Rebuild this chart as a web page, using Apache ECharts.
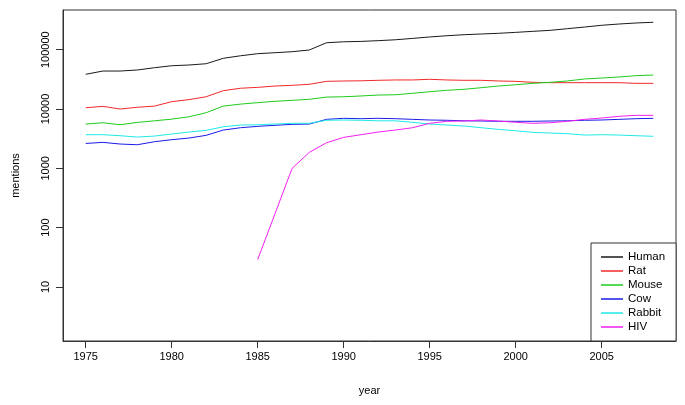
<!DOCTYPE html>
<html>
<head>
<meta charset="utf-8">
<script src="https://cdn.jsdelivr.net/npm/echarts@6/dist/echarts.min.js"></script>
<style>
html, body { margin: 0; padding: 0; background: #fff; }
#chart { width: 685px; height: 405px; }
</style>
</head>
<body>
<div id="chart"></div>
<script>
// data (mentions per year, log scale)
var years = [1975,1976,1977,1978,1979,1980,1981,1982,1983,1984,1985,1986,1987,1988,1989,1990,1991,
             1992,1993,1994,1995,1996,1997,1998,1999,2000,2001,2002,2003,2004,2005,2006,2007,2008];
var human  = [38500,43700,43700,45500,49700,53700,55200,58000,71600,79000,85700,89000,92500,98900,131000,136000,138000,
              142000,147000,155000,164000,172000,179000,184000,189000,196000,204000,212000,226000,241000,258000,271000,282000,290000];
var rat    = [10500,11100,10000,10700,11200,13300,14400,16100,20400,22400,23200,24400,25100,26100,29300,29700,29900,
              30500,30900,30900,31700,30900,30500,30500,29700,29300,28200,27800,27800,27800,27800,27800,27100,27100];
var mouse  = [5580,5870,5430,5950,6330,6750,7400,8670,11200,12100,12800,13500,14000,14600,15900,16100,16600,
              17200,17400,18400,19600,20700,21500,22900,24400,25700,27100,28200,29700,32100,33300,34700,36500,37400];
var cow    = [2630,2740,2570,2500,2810,3040,3240,3600,4420,4840,5100,5310,5520,5580,6700,6970,6870,
              6970,6870,6700,6530,6460,6330,6280,6210,6210,6210,6280,6330,6460,6530,6700,6870,6970];
var rabbit = [3690,3690,3550,3370,3500,3790,4090,4370,5020,5370,5430,5580,5740,5740,6460,6530,6460,
              6330,6330,5970,5580,5370,5170,4840,4540,4300,4040,3940,3840,3640,3690,3640,3550,3470];
var hiv    = [null,null,null,null,null,null,null,null,null,null,29,170,1000,1860,2700,3330,3690,
              4090,4420,4840,5740,6210,6280,6530,6280,5970,5740,5870,6210,6700,7050,7530,7830,7830];

var xTicks = [1975,1980,1985,1990,1995,2000,2005];
var yTicks = [10,100,1000,10000,100000];

var names  = ['Human','Rat','Mouse','Cow','Rabbit','HIV'];
var values = [human, rat, mouse, cow, rabbit, hiv];
var colors = ['#1a1a1a','#f02828','#1ccc1c','#1a1ae8','#20e8e8','#f020f0'];

var chart = echarts.init(document.getElementById('chart'), null, {renderer: 'canvas'});

var series = [];
for (var i = 0; i < names.length; i++) {
    var pts = [];
    for (var j = 0; j < years.length; j++) {
        if (values[i][j] != null) pts.push([years[j], values[i][j]]);
    }
    series.push({
        name: names[i],
        type: 'line',
        data: pts,
        showSymbol: false,
        symbol: 'none',
        lineStyle: {color: colors[i], width: 1},
        itemStyle: {color: colors[i]},
        animation: false
    });
}

var font = 'Liberation Sans, Arial, sans-serif';

var option = {
    animation: false,
    textStyle: {fontFamily: font},
    grid: {
        left: 63, top: 10, right: 9, bottom: 64,
        show: true, borderColor: '#333', borderWidth: 1
    },
    legend: {
        orient: 'vertical',
        left: 591,
        top: 243,
        padding: [7, 11, 7, 10],
        borderColor: '#333',
        borderWidth: 1,
        backgroundColor: '#fff',
        icon: 'rect',
        itemWidth: 22,
        itemHeight: 1.5,
        itemGap: 0,
        itemTextGap: 10,
        textStyle: {fontSize: 11.5, lineHeight: 14, color: '#000', fontFamily: font},
        data: names
    },
    xAxis: {
        type: 'value',
        min: 1973.68,
        max: 2009.32,
        name: 'year',
        nameLocation: 'middle',
        nameGap: 44,
        nameTextStyle: {fontSize: 11, color: '#000', fontFamily: font},
        axisLine: {show: true, lineStyle: {color: '#333'}},
        axisTick: {show: true, inside: false, length: 7, lineStyle: {color: '#333'}, customValues: xTicks},
        axisLabel: {
            fontSize: 11, color: '#000', margin: 10, customValues: xTicks, fontFamily: font,
            formatter: function (v) { return String(Math.round(v)); }
        },
        splitLine: {show: false}
    },
    yAxis: {
        type: 'log',
        logBase: 10,
        min: 1.229,
        max: 467000,
        name: 'mentions',
        nameLocation: 'middle',
        nameGap: 42,
        nameTextStyle: {fontSize: 11, color: '#000', fontFamily: font},
        axisLine: {show: true, lineStyle: {color: '#333'}},
        axisTick: {show: true, inside: false, length: 7, lineStyle: {color: '#333'}, customValues: yTicks},
        axisLabel: {
            fontSize: 11, color: '#000', margin: 12, rotate: 90, customValues: yTicks, fontFamily: font,
            formatter: function (v) { return String(Math.round(v)); }
        },
        splitLine: {show: false}
    },
    series: series
};

chart.setOption(option);
</script>
</body>
</html>
